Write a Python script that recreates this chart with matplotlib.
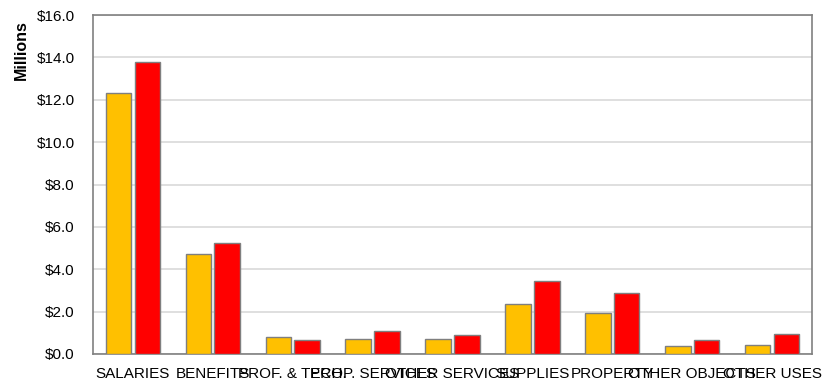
import matplotlib.pyplot as plt
import numpy as np
from matplotlib.ticker import FuncFormatter

plt.rcParams['font.family'] = ['Liberation Sans', 'DejaVu Sans']

categories = ["SALARIES", "BENEFITS", "PROF. & TECH.", "PROP. SERVICES",
              "OTHER SERVICES", "SUPPLIES", "PROPERTY", "OTHER OBJECTS",
              "OTHER USES"]
series_a = [12.30, 4.70, 0.82, 0.71, 0.69, 2.34, 1.92, 0.38, 0.42]
series_b = [13.76, 5.22, 0.66, 1.07, 0.91, 3.46, 2.88, 0.66, 0.93]

fig = plt.figure(figsize=(8.32, 3.82), dpi=100)
ax = fig.add_axes([93 / 832, 1 - 354 / 382, (812 - 93) / 832, (354 - 15) / 382])

x = np.arange(len(categories))
w = 0.32
ax.bar(x - 0.18, series_a, width=w, color="#FFC000", edgecolor="#7f7f7f",
       linewidth=1, zorder=3)
ax.bar(x + 0.18, series_b, width=w, color="#FF0000", edgecolor="#7f7f7f",
       linewidth=1, zorder=3)

ax.set_xlim(-0.5, len(categories) - 0.5)
ax.set_ylim(0, 16)
ax.set_yticks(np.arange(0, 16.1, 2))
ax.yaxis.set_major_formatter(FuncFormatter(lambda v, p: f"${v:.1f}"))
ax.set_xticks(x, categories)
ax.tick_params(axis="both", length=0, labelsize=11, colors="black")
ax.tick_params(axis="y", pad=13)
ax.tick_params(axis="x", pad=9)
ax.grid(axis="y", color="#d9d9d9", linewidth=1.2, zorder=0)

for s in ax.spines.values():
    s.set_color("#808080")
    s.set_linewidth(1.2)

ax.set_ylabel("Millions", fontsize=11.5, fontweight="bold")
ax.yaxis.set_label_coords(-0.089, 0.897)

fig.savefig("out.png", dpi=100)
